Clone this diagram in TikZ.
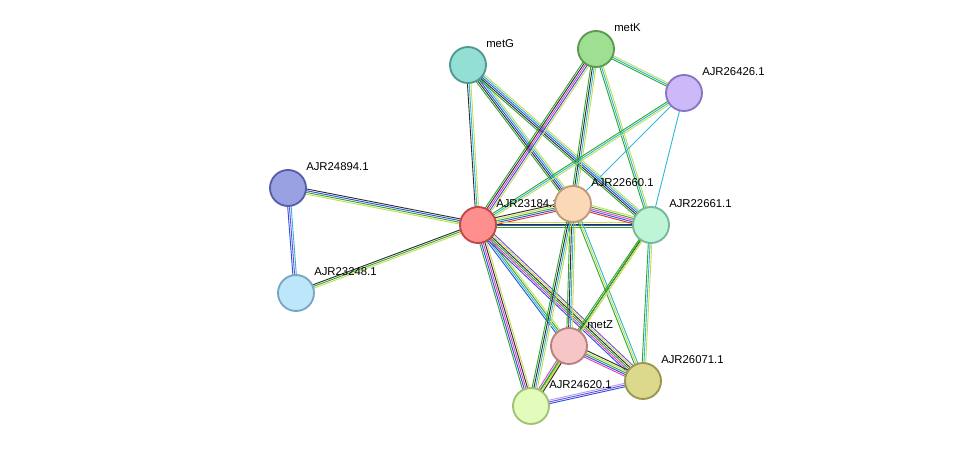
\documentclass[tikz,border=0pt]{standalone}
\usepackage{fontspec}
\setmainfont{Liberation Sans}
\usetikzlibrary{calc}
\definecolor{ey}{HTML}{C8DC50}
\definecolor{eg}{HTML}{30A830}
\definecolor{ed}{HTML}{303030}
\definecolor{eb}{HTML}{3050E0}
\definecolor{ec}{HTML}{30B8D8}
\definecolor{em}{HTML}{E040C8}
\definecolor{er}{HTML}{E03030}
\definecolor{ep}{HTML}{7050E0}
\definecolor{el}{HTML}{B0A0F0}
\tikzset{
    edgeline/.style={line width=0.7pt},
    prot/.style={circle, minimum size=27pt, inner sep=0pt, line width=1.4pt},
    plabel/.style={anchor=west, font=\fontsize{8.5}{10}\selectfont, inner sep=0pt}
}
\newcommand\edge[3]{%
  \def\nn{0}\foreach \c in {#3}{\pgfmathtruncatemacro\t{\nn+1}\xdef\nn{\t}}%
  \foreach \c [count=\i] in {#3}{%
    \pgfmathsetmacro\o{(\i-(\nn+1)/2)*1.3}%
    \draw[edgeline,draw=\c] ($(#1)!\o pt!90:(#2)$) -- ($(#2)!\o pt!-90:(#1)$);}}
\begin{document}
\begin{tikzpicture}[x=0.75pt,y=-0.75pt]
\useasboundingbox (0,0) rectangle (976,452);
% protein positions
\foreach \p/\x/\y in {metG/468/65, metK/596/49, a26426/684/93, a24894/288/188,
    a23184/478/225, a22660/573/204, a22661/651/225, a23248/296/293,
    metZ/569/346, a26071/643/381, a24620/531/406}{
    \coordinate (\p) at (\x,\y);
}
% evidence lines
\edge{a24894}{a23248}{eb,ep,ec}
\edge{a24894}{a23184}{ey,eg,eb,ed}
\edge{a23248}{a23184}{ey,eg,ed}
\edge{metG}{a23184}{ed,ec,ey}
\edge{metG}{a22660}{eg,ed,eb,ec,ey}
\edge{metG}{a22661}{eg,ed,eb,ec,ey}
\edge{metK}{a23184}{eg,ed,em,eb,ey}
\edge{metK}{a22660}{eg,ed,ec,ey}
\edge{metK}{a22661}{eg,ec,ey}
\edge{metK}{a26426}{eg,ec,ey}
\edge{a26426}{a23184}{eg,ec,ey}
\edge{a26426}{a22660}{ec}
\edge{a26426}{a22661}{ec}
\edge{a23184}{a22660}{er,eb,eg,ey,ed}
\edge{a23184}{a22661}{eg,eb,ed,ey}
\edge{a22660}{a22661}{er,eb,em,eg,ey}
\edge{a23184}{metZ}{eb,ec,eg,ey}
\edge{a23184}{a26071}{eb,em,eg,ed,ey,ep}
\edge{a23184}{a24620}{eg,eb,em,ed,ey}
\edge{a22660}{metZ}{eg,ed,ec,ey}
\edge{a22660}{a26071}{eg,ey,ec}
\edge{a22660}{a24620}{eg,ed,ec,ey}
\edge{a22661}{metZ}{eg,ed,ey}
\edge{a22661}{a26071}{eg,ec,ey}
\edge{a22661}{a24620}{eg,ey}
\edge{metZ}{a26071}{em,eb,eg,ey,ed}
\edge{metZ}{a24620}{em,eg,ey,ed}
\edge{a24620}{a26071}{eb,ep,el}
% labels
\foreach \p/\t in {metG/metG, metK/metK, a26426/AJR26426.1, a24894/AJR24894.1,
    a23184/AJR23184.1, a22661/AJR22661.1, a23248/AJR23248.1,
    metZ/metZ, a26071/AJR26071.1, a24620/AJR24620.1}{
    \node[plabel] at ($(\p)+(18,-21)$) {\t};
}
% proteins
\foreach \p/\f/\d in {metG/93DFD4/4E9A90, metK/9FDF91/5A9A4E, a26426/CDB9FA/8A75C0,
    a24894/9AA1E2/5660A8, a23184/FF8F8F/C04848, a23248/BDE6FB/78A8C0,
    metZ/F6C6C6/B88080, a26071/DCD98D/9A9650, a24620/E2FCBC/A0C078,
    a22661/BDF5D6/78B898, a22660/FCD9B6/C09A78}{
    \definecolor{pf}{HTML}{\f}\definecolor{pd}{HTML}{\d}
    \node[prot, fill=pf, draw=pd] (n\p) at (\p) {};
}
\node[plabel] at ($(a22660)+(18,-21)$) {AJR22660.1};
\end{tikzpicture}
\end{document}
